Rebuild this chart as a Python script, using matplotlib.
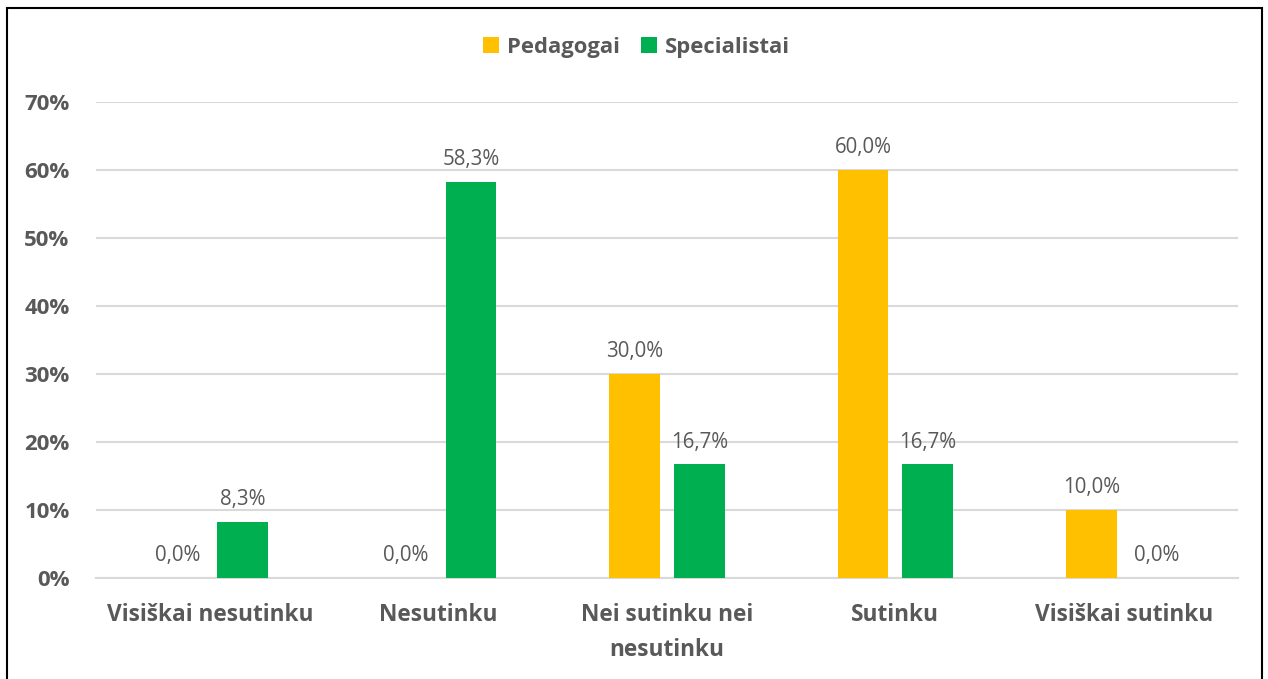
import numpy as np
import matplotlib
matplotlib.use("Agg")
import matplotlib.pyplot as plt
from matplotlib.patches import Rectangle
from matplotlib.ticker import FuncFormatter

plt.rcParams["font.family"] = ["Open Sans", "DejaVu Sans"]

# ── 데이터 ───────────────────────────────────────────────
categories = ["Visiškai nesutinku", "Nesutinku", "Nei sutinku nei\nnesutinku",
              "Sutinku", "Visiškai sutinku"]
series_names = ["Pedagogai", "Specialistai"]
pedagogai = [0.0, 0.0, 30.0, 60.0, 10.0]
specialistai = [8.3, 58.3, 16.7, 16.7, 0.0]
colors = ["#FFC000", "#00B050"]

TEXT = "#595959"
GRID = "#D9D9D9"

W, H = 1268, 679
fig = plt.figure(figsize=(W / 100, H / 100), dpi=100)
ax = fig.add_axes([96 / W, 1 - 578 / H, (1238 - 96) / W, (578 - 102) / H])

x = np.arange(len(categories))
width = 0.223
offset = 0.142

for vals, name, col, off in zip([pedagogai, specialistai], series_names, colors,
                                [-offset, offset]):
    bars = ax.bar(x + off, vals, width, color=col, label=name, zorder=3)
    for bar, v in zip(bars, vals):
        ax.annotate(f"{v:.1f}%".replace(".", ","),
                    (bar.get_x() + bar.get_width() / 2, v),
                    xytext=(0, 8.5), textcoords="offset points",
                    ha="center", va="bottom", fontsize=14.8, color=TEXT)

ax.set_xlim(-0.5, len(categories) - 0.5)
ax.set_ylim(0, 70)
ax.set_yticks(np.arange(0, 71, 10))
ax.yaxis.set_major_formatter(FuncFormatter(lambda v, p: f"{v:.0f}%"))
ax.grid(axis="y", color=GRID, linewidth=1.5, zorder=0)
for s in ["top", "right", "left"]:
    ax.spines[s].set_visible(False)
ax.spines["bottom"].set_color(GRID)
ax.spines["bottom"].set_linewidth(1.5)
ax.tick_params(axis="both", length=0, colors=TEXT)
ax.tick_params(axis="y", pad=19)
ax.tick_params(axis="x", pad=18)
ax.set_xticks(x)
ax.set_xticklabels(categories, fontsize=16.3, fontweight="bold", color=TEXT,
                   linespacing=1.6)
for lab in ax.get_yticklabels():
    lab.set_fontsize(16)
    lab.set_fontweight("bold")
    lab.set_color(TEXT)

fig.legend(loc="center", bbox_to_anchor=(0.502, 1 - 47 / H), ncol=2, frameon=False,
           handlelength=0.7, handleheight=0.7, handletextpad=0.35, columnspacing=1.0,
           prop={"size": 15.8, "weight": "bold"}, labelcolor=TEXT)

fig.patches.append(Rectangle((7 / W, -0.05), (1262 - 7) / W, 1.05 - 8 / H,
                             transform=fig.transFigure, fill=False,
                             edgecolor="black", linewidth=1.5))

fig.savefig("out.png", dpi=100)
